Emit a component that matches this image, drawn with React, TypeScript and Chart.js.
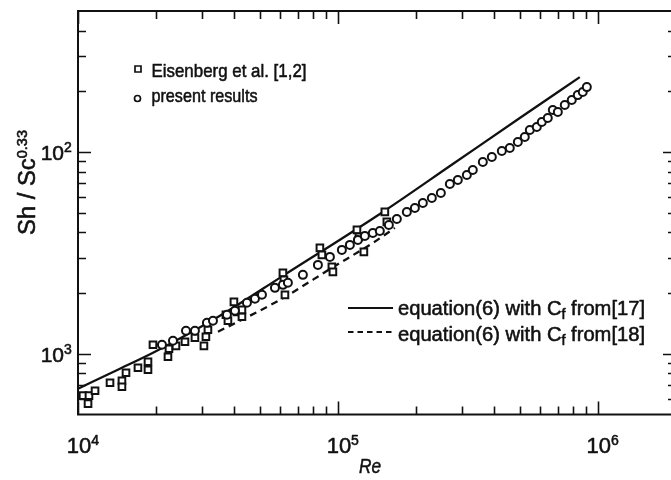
import React, { useEffect, useRef } from 'react';
import { Chart, registerables } from 'chart.js';

Chart.register(...registerables);

// ---------- data ----------
const eisenbergRe = [10450, 11020, 10930, 11630, 13280, 14760, 14760, 15300, 17010, 18590, 18590, 19430, 22190, 22390, 23820, 25800, 28180, 30520, 31060, 31620, 37090, 37750, 39810, 40890, 42740, 42740, 61440, 62560, 61990, 85270, 86790, 94820, 95680, 118400, 120500, 125900, 151600, 154300];
const eisenbergSh = [62.0, 62.0, 56.6, 65.6, 71.8, 73.5, 68.6, 80.5, 85.2, 83.3, 91.3, 110.8, 96.6, 105.9, 109.5, 114.7, 120.0, 109.5, 121.4, 131.5, 156.1, 145.7, 180.9, 161.4, 152.5, 165.1, 251.8, 196.0, 232.5, 334.8, 309.2, 269.6, 254.6, 411.2, 379.6, 319.9, 504.6, 450.3];

const presentRe = [21040, 23200, 26030, 28180, 31340, 33060, 37420, 40170, 44670, 47960, 51030, 57250, 61440, 64220, 73340, 83780, 93170, 103600, 111200, 119400, 127000, 136300, 145000, 157100, 168600, 184200, 197800, 212300, 229900, 249000, 269700, 289400, 313500, 330500, 361200, 391200, 427400, 458600, 492500, 523800, 547700, 582600, 609000, 642200, 671400, 702000, 746600, 794300, 837700, 875600, 907600];
const presentSh = [110.8, 116.0, 130.0, 130.0, 142.4, 145.7, 156.1, 163.3, 178.9, 187.2, 196.0, 212.2, 219.6, 224.7, 246.1, 275.8, 302.1, 327.2, 346.4, 366.8, 383.9, 397.2, 406.4, 435.2, 465.9, 504.6, 528.2, 559.2, 591.9, 626.6, 694.3, 726.6, 769.2, 814.5, 892.5, 944.6, 1012, 1047, 1121, 1187, 1285, 1330, 1408, 1474, 1614, 1578, 1709, 1809, 1915, 1982, 2098];

const eq17Re = [10000, 14500, 19780, 35170, 61440, 149000, 276900, 501200, 852700];
const eq17Sh = [67.1, 84.3, 102.3, 154.2, 243.3, 504.6, 872.3, 1474, 2351];

const eq18Re = [34560, 59830, 94820, 136300, 165700];
const eq18Sh = [128.5, 185.0, 266.6, 354.4, 420.6];

// axes
const xMin = 1e4;
const xMax = 2e6;
const yMin = 50;
const yMax = 5000;
const xMajorTicks = [1e4, 1e5, 1e6];
const xMajorExponents = ['4', '5', '6'];
const xMinorTicks = [2e4, 3e4, 4e4, 5e4, 6e4, 7e4, 8e4, 9e4, 2e5, 3e5, 4e5, 5e5, 6e5, 7e5, 8e5, 9e5];
const yMajorTicks = [100, 1000];
const yMajorExponents = ['3', '2']; // as printed in the reference figure
const yMinorTicks = [60, 70, 80, 90, 200, 300, 400, 500, 600, 700, 800, 900, 2000, 3000, 4000];

const seriesLabels = ['Eisenberg et al. [1,2]', 'present results'];
const lineLabelA = ['equation(6) with C', 'f', ' from[17]'];
const lineLabelB = ['equation(6) with C', 'f', ' from[18]'];
const xTitle = 'Re';
const yTitle = ['Sh / Sc', '0.33'];

const INK = '#111111';
const FONT = "'Liberation Sans', Arial, sans-serif";

type Part = { text: string; size: number; dy?: number; italic?: boolean };

function partsWidth(ctx: CanvasRenderingContext2D, parts: Part[]) {
  let w = 0;
  for (const p of parts) {
    ctx.font = `${p.italic ? 'italic ' : ''}${p.size}px ${FONT}`;
    w += ctx.measureText(p.text).width;
  }
  return w;
}

// draws parts starting at x (left), baseline y, squeezed to targetWidth if given
function drawParts(ctx: CanvasRenderingContext2D, parts: Part[], x: number, y: number, targetWidth?: number) {
  const w = partsWidth(ctx, parts);
  const sx = targetWidth ? targetWidth / w : 1;
  ctx.save();
  ctx.translate(x, y);
  ctx.scale(sx, 1);
  ctx.textAlign = 'left';
  ctx.textBaseline = 'alphabetic';
  ctx.fillStyle = INK;
  ctx.strokeStyle = INK;
  ctx.lineWidth = 0.55;
  ctx.lineJoin = 'round';
  let cx = 0;
  for (const p of parts) {
    ctx.font = `${p.italic ? 'italic ' : ''}${p.size}px ${FONT}`;
    ctx.fillText(p.text, cx, p.dy || 0);
    ctx.strokeText(p.text, cx, p.dy || 0);
    cx += ctx.measureText(p.text).width;
  }
  ctx.restore();
}

const decorPlugin = {
  id: 'figureDecor',
  afterDraw(chart: any) {
    const ctx: CanvasRenderingContext2D = chart.ctx;
    const xs = chart.scales.x;
    const ys = chart.scales.y;
    const { left, right, top, bottom } = chart.chartArea;
    ctx.save();
    ctx.strokeStyle = INK;
    ctx.lineWidth = 2;
    ctx.strokeRect(left, top, right - left, bottom - top);

    const major = 13;
    const minor = 8;
    ctx.lineWidth = 1.6;
    ctx.beginPath();
    const xt = (v: number, len: number) => {
      const px = Math.round(xs.getPixelForValue(v)) + 0.5;
      ctx.moveTo(px, bottom);
      ctx.lineTo(px, bottom - len);
      ctx.moveTo(px, top);
      ctx.lineTo(px, top + len);
    };
    const yt = (v: number, len: number) => {
      const py = Math.round(ys.getPixelForValue(v)) + 0.5;
      ctx.moveTo(left, py);
      ctx.lineTo(left + len, py);
      ctx.moveTo(right, py);
      ctx.lineTo(right - len, py);
    };
    xMajorTicks.forEach((v) => xt(v, major));
    xMinorTicks.forEach((v) => xt(v, minor));
    yMajorTicks.forEach((v) => yt(v, major));
    yMinorTicks.forEach((v) => yt(v, minor));
    ctx.stroke();

    // x tick labels
    ctx.font = `22px ${FONT}`;
    const w10 = ctx.measureText('10').width;
    xMajorTicks.forEach((v, i) => {
      const px = xs.getPixelForValue(v);
      drawParts(ctx, [{ text: '10', size: 22 }, { text: xMajorExponents[i], size: 14, dy: -8 }], px - w10 / 2 + 1, 453);
    });
    // y tick labels
    ctx.font = `21px ${FONT}`;
    const w10y = ctx.measureText('10').width;
    yMajorTicks.forEach((v, i) => {
      const py = ys.getPixelForValue(v);
      drawParts(ctx, [{ text: '10', size: 21 }, { text: yMajorExponents[i], size: 14, dy: -8 }], 64 - w10y, py + 8);
    });

    // axis titles
    drawParts(ctx, [{ text: xTitle, size: 21, italic: true }], 359, 473, 22);
    ctx.save();
    ctx.translate(35, 235);
    ctx.rotate(-Math.PI / 2);
    drawParts(ctx, [{ text: yTitle[0], size: 23 }, { text: yTitle[1], size: 14, dy: -8 }], 0, 0, 105);
    ctx.restore();

    // legend, top-left (markers)
    ctx.strokeStyle = INK;
    ctx.lineWidth = 1.7;
    ctx.fillStyle = '#fff';
    ctx.beginPath();
    ctx.rect(135, 66, 6, 6);
    ctx.fill();
    ctx.stroke();
    ctx.beginPath();
    ctx.arc(137.5, 98.5, 3, 0, Math.PI * 2);
    ctx.fill();
    ctx.stroke();
    drawParts(ctx, [{ text: seriesLabels[0], size: 18.5 }], 151.5, 77, 155);
    drawParts(ctx, [{ text: seriesLabels[1], size: 18.5 }], 151.5, 101.5, 106);

    // legend, bottom-right (lines)
    ctx.strokeStyle = INK;
    ctx.lineWidth = 2.2;
    ctx.beginPath();
    ctx.moveTo(348, 308);
    ctx.lineTo(393, 308);
    ctx.stroke();
    ctx.setLineDash([5.5, 4]);
    ctx.beginPath();
    ctx.moveTo(348, 332);
    ctx.lineTo(393, 332);
    ctx.stroke();
    ctx.setLineDash([]);
    const mk = (l: string[]): Part[] => [
      { text: l[0], size: 19.5 },
      { text: l[1], size: 14, dy: 4 },
      { text: l[2], size: 19.5 },
    ];
    drawParts(ctx, mk(lineLabelA), 398, 315, 247);
    drawParts(ctx, mk(lineLabelB), 398, 341, 247);

    ctx.restore();
  },
};

export default function App() {
  const canvasRef = useRef<HTMLCanvasElement | null>(null);

  useEffect(() => {
    const canvas = canvasRef.current;
    if (!canvas) return;
    const toPts = (xs: number[], ys: number[]) => xs.map((x, i) => ({ x, y: ys[i] }));
    const chart = new Chart(canvas, {
      type: 'scatter',
      data: {
        datasets: [
          {
            label: seriesLabels[1],
            data: toPts(presentRe, presentSh),
            pointStyle: 'circle',
            pointRadius: 4,
            borderWidth: 2,
            borderColor: INK,
            backgroundColor: '#ffffff',
            showLine: false,
            order: 0,
          },
          {
            label: seriesLabels[0],
            data: toPts(eisenbergRe, eisenbergSh),
            pointStyle: 'rect',
            pointRadius: 4.7,
            borderWidth: 2,
            borderColor: INK,
            backgroundColor: '#ffffff',
            showLine: false,
            order: 1,
          },
          {
            label: 'equation (6) with Cf from [17]',
            data: toPts(eq17Re, eq17Sh),
            showLine: true,
            pointRadius: 0,
            borderColor: INK,
            borderWidth: 2.3,
            cubicInterpolationMode: 'monotone',
            order: 2,
          },
          {
            label: 'equation (6) with Cf from [18]',
            data: toPts(eq18Re, eq18Sh),
            showLine: true,
            pointRadius: 0,
            borderColor: INK,
            borderWidth: 2.3,
            borderDash: [7, 5],
            cubicInterpolationMode: 'monotone',
            order: 3,
          },
        ],
      } as any,
      options: {
        animation: false,
        responsive: false,
        devicePixelRatio: 1,
        events: [],
        layout: { padding: { left: 78, top: 11, right: 24, bottom: 65.5 } },
        plugins: { legend: { display: false }, tooltip: { enabled: false } },
        scales: {
          x: { type: 'logarithmic', min: xMin, max: xMax, display: false },
          y: { type: 'logarithmic', min: yMin, max: yMax, display: false },
        },
      } as any,
      plugins: [decorPlugin],
    });
    return () => chart.destroy();
  }, []);

  return (
    <div style={{ position: 'absolute', left: 0, top: 0, width: 671, height: 480, overflow: 'hidden', background: '#fff' }}>
      <canvas ref={canvasRef} width={700} height={480} style={{ display: 'block', width: 700, height: 480 }} />
    </div>
  );
}
